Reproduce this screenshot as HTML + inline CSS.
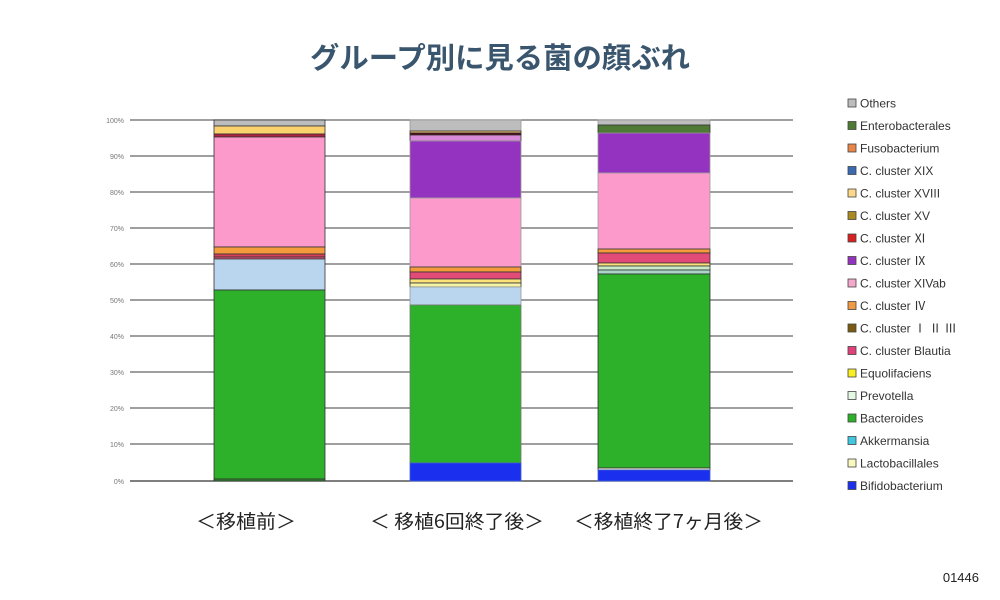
<!DOCTYPE html>
<html><head><meta charset="utf-8"><style>
html,body{margin:0;padding:0;background:#fff;}
svg{display:block;}
</style></head><body>
<svg width="1000" height="600" viewBox="0 0 1000 600" xmlns="http://www.w3.org/2000/svg" font-family="'Liberation Sans','Noto Sans CJK JP',sans-serif">
<rect width="1000" height="600" fill="#fff"/>
<text x="500" y="68" text-anchor="middle" font-size="29" font-weight="bold" fill="#3a566e" font-family="'Noto Sans CJK JP',sans-serif" textLength="380" lengthAdjust="spacingAndGlyphs">グループ別に見る菌の顔ぶれ</text>
<g stroke="#666" stroke-width="1.2">
<line x1="130" y1="120" x2="793" y2="120"/><line x1="130" y1="156" x2="793" y2="156"/>
<line x1="130" y1="192" x2="793" y2="192"/><line x1="130" y1="228" x2="793" y2="228"/>
<line x1="130" y1="264" x2="793" y2="264"/><line x1="130" y1="300" x2="793" y2="300"/>
<line x1="130" y1="336" x2="793" y2="336"/><line x1="130" y1="372" x2="793" y2="372"/>
<line x1="130" y1="408" x2="793" y2="408"/><line x1="130" y1="444" x2="793" y2="444"/>
<line x1="130" y1="481" x2="793" y2="481" stroke="#333"/>
</g>
<g font-size="7" fill="#777" text-anchor="end">
<text x="124" y="123">100%</text><text x="124" y="159">90%</text><text x="124" y="195">80%</text>
<text x="124" y="231">70%</text><text x="124" y="267">60%</text><text x="124" y="303">50%</text>
<text x="124" y="339">40%</text><text x="124" y="375">30%</text><text x="124" y="411">20%</text>
<text x="124" y="447">10%</text><text x="124" y="484">0%</text>
</g>
<g stroke="#333" stroke-width="0.8">
<rect x="214" y="120" width="111" height="6" fill="#bdbdbd"/>
<rect x="214" y="126" width="111" height="8" fill="#fcd26e"/>
<rect x="214" y="134" width="111" height="3" fill="#b02040"/>
<rect x="214" y="137" width="111" height="110" fill="#fb9acb"/>
<rect x="214" y="247" width="111" height="7" fill="#f59a3c"/>
<rect x="214" y="254" width="111" height="3" fill="#d8405a"/>
<rect x="214" y="257" width="111" height="2" fill="#e0507a"/>
<rect x="214" y="259" width="111" height="31" fill="#bad6ee"/>
<rect x="214" y="290" width="111" height="189" fill="#2db02a"/>
<rect x="214" y="479" width="111" height="2" fill="#2a8a2a"/>
<rect x="410" y="120" width="111" height="11" fill="#bdbdbd" stroke="#999"/>
<rect x="410" y="131" width="111" height="2" fill="#f0c070"/>
<rect x="410" y="133" width="111" height="2" fill="#500010"/>
<rect x="410" y="135" width="111" height="6" fill="#d98ad8"/>
<rect x="410" y="141" width="111" height="57" fill="#9333c0" stroke="#999"/>
<rect x="410" y="198" width="111" height="69" fill="#fb9acb" stroke="#999"/>
<rect x="410" y="267" width="111" height="5" fill="#f59a3c"/>
<rect x="410" y="272" width="111" height="7" fill="#e24a78"/>
<rect x="410" y="279" width="111" height="4" fill="#fce27a"/>
<rect x="410" y="283" width="111" height="4" fill="#f4f4a8"/>
<rect x="410" y="287" width="111" height="18" fill="#bad6ee" stroke="#999"/>
<rect x="410" y="305" width="111" height="158" fill="#2db02a" stroke="#777"/>
<rect x="410" y="463" width="111" height="18" fill="#1a30ee" stroke="#4060d0"/>
<rect x="598" y="120" width="112" height="5" fill="#bdbdbd" stroke="#999"/>
<rect x="598" y="125" width="112" height="8" fill="#4e7a36"/>
<rect x="598" y="133" width="112" height="40" fill="#9333c0" stroke="#999"/>
<rect x="598" y="173" width="112" height="76" fill="#fb9acb" stroke="#999"/>
<rect x="598" y="249" width="112" height="4" fill="#f59a3c"/>
<rect x="598" y="253" width="112" height="10" fill="#e24a78"/>
<rect x="598" y="263" width="112" height="3" fill="#fce27a"/>
<rect x="598" y="266" width="112" height="4" fill="#c8ecc8"/>
<rect x="598" y="270" width="112" height="4" fill="#a8d6c8"/>
<rect x="598" y="274" width="112" height="194" fill="#2db02a"/>
<rect x="598" y="468" width="112" height="2" fill="#f8f8e0"/>
<rect x="598" y="470" width="112" height="11" fill="#1a30ee" stroke="#4060d0"/>
</g>
<g font-size="12" fill="#333" stroke="none">
<g stroke="#444" stroke-width="0.8">
<rect x="848" y="99" width="8" height="8" fill="#bdbdbd"/>
<rect x="848" y="121.5" width="8" height="8" fill="#4e7a36"/>
<rect x="848" y="144" width="8" height="8" fill="#e8864a"/>
<rect x="848" y="166.5" width="8" height="8" fill="#3a6ab0"/>
<rect x="848" y="189" width="8" height="8" fill="#fcd88a"/>
<rect x="848" y="211.5" width="8" height="8" fill="#a88a20"/>
<rect x="848" y="234" width="8" height="8" fill="#d82020"/>
<rect x="848" y="256.5" width="8" height="8" fill="#9333c0"/>
<rect x="848" y="279" width="8" height="8" fill="#f4a8cc"/>
<rect x="848" y="301.5" width="8" height="8" fill="#f09a44"/>
<rect x="848" y="324" width="8" height="8" fill="#7a5a10"/>
<rect x="848" y="346.5" width="8" height="8" fill="#e0407a"/>
<rect x="848" y="369" width="8" height="8" fill="#f8f020"/>
<rect x="848" y="391.5" width="8" height="8" fill="#e4f8e4"/>
<rect x="848" y="414" width="8" height="8" fill="#2db02a"/>
<rect x="848" y="436.5" width="8" height="8" fill="#40c8e0"/>
<rect x="848" y="459" width="8" height="8" fill="#f8f8c0"/>
<rect x="848" y="481.5" width="8" height="8" fill="#1a30ee"/>
</g>
<text x="860" y="107.5">Others</text>
<text x="860" y="130">Enterobacterales</text>
<text x="860" y="152.5">Fusobacterium</text>
<text x="860" y="175">C. cluster XIX</text>
<text x="860" y="197.5">C. cluster XVIII</text>
<text x="860" y="220">C. cluster XV</text>
<text x="860" y="242.5">C. cluster Ⅺ</text>
<text x="860" y="265">C. cluster Ⅸ</text>
<text x="860" y="287.5">C. cluster XIVab</text>
<text x="860" y="310">C. cluster Ⅳ</text>
<text x="860" y="332.5">C. cluster Ⅰ Ⅱ Ⅲ</text>
<text x="860" y="355">C. cluster Blautia</text>
<text x="860" y="377.5">Equolifaciens</text>
<text x="860" y="400">Prevotella</text>
<text x="860" y="422.5">Bacteroides</text>
<text x="860" y="445">Akkermansia</text>
<text x="860" y="467.5">Lactobacillales</text>
<text x="860" y="490">Bifidobacterium</text>
</g>
<g font-size="19" fill="#222" font-family="'Noto Sans CJK JP',sans-serif">
<text x="196" y="528" textLength="100" lengthAdjust="spacingAndGlyphs">＜移植前＞</text>
<text x="370" y="528" textLength="174" lengthAdjust="spacingAndGlyphs">＜ 移植6回終了後＞</text>
<text x="574" y="528" textLength="189" lengthAdjust="spacingAndGlyphs">＜移植終了7ヶ月後＞</text>
</g>
<text x="979" y="582" font-size="13" fill="#222" text-anchor="end">01446</text>
</svg>
</body></html>
